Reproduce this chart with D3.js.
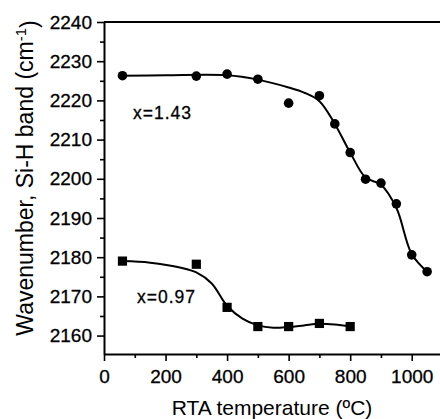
<!DOCTYPE html>
<html>
<head>
<meta charset="utf-8">
<script src="https://cdn.jsdelivr.net/npm/d3@7"></script>
<style>
  body { margin: 0; background: #fff; }
  svg { display: block; font-family: "Liberation Sans", Arial, sans-serif; }
</style>
</head>
<body>
<div id="chart"></div>
<script>
// measured points, x=1.43
let tempHigh = [60, 300, 400, 500, 600, 700, 750, 800, 850, 900, 950, 1000, 1050];
let waveHigh = [2226.3, 2226.2, 2226.7, 2225.4, 2219.3, 2221.2, 2214.0, 2206.7, 2199.9, 2198.9, 2193.6, 2180.6, 2176.3];

// measured points, x=0.97
let tempLow = [60, 300, 400, 500, 600, 700, 800];
let waveLow = [2179.0, 2178.2, 2167.2, 2162.3, 2162.3, 2163.1, 2162.3];

// fitted curves
let fitTempHigh = [60, 200, 400, 500, 600, 650, 700, 750, 800, 850, 900, 950, 1000, 1050];
let fitWaveHigh = [2226.3, 2226.4, 2226.4, 2225.3, 2223.3, 2222.0, 2219.8, 2214.0, 2206.7, 2200.3, 2198.5, 2192.6, 2180.8, 2176.3];
let fitTempLow = [60, 150, 250, 300, 350, 400, 450, 500, 550, 600, 650, 700, 750, 800];
let fitWaveLow = [2179.0, 2178.6, 2177.3, 2176.1, 2173.3, 2167.6, 2164.3, 2162.6, 2162.0, 2162.2, 2162.6, 2163.0, 2162.8, 2162.3];

let xTicks = [0, 200, 400, 600, 800, 1000];
let xMinor = [100, 300, 500, 700, 900];
let yTicks = [2160, 2170, 2180, 2190, 2200, 2210, 2220, 2230, 2240];
let yMinor = [2165, 2175, 2185, 2195, 2205, 2215, 2225, 2235];

let svgWidth = 440;
let svgHeight = 419;

let svg = d3.select("#chart")
    .append("svg")
    .attr("width", svgWidth)
    .attr("height", svgHeight);

let x = d3.scaleLinear().domain([0, 1100]).range([104, 442.5]);
let y = d3.scaleLinear().domain([2155.3, 2240]).range([354, 22]);

// minor ticks first
svg.append("g")
    .attr("transform", `translate(0, ${y.range()[0]})`)
    .call(d3.axisBottom(x).tickValues(xMinor).tickSize(4).tickFormat(""))
    .call(g => g.select(".domain").remove());
svg.append("g")
    .attr("transform", `translate(${x.range()[0]}, 0)`)
    .call(d3.axisLeft(y).tickValues(yMinor).tickSize(4).tickFormat(""))
    .call(g => g.select(".domain").remove());

// major axes
svg.append("g")
    .attr("transform", `translate(0, ${y.range()[0]})`)
    .call(d3.axisBottom(x).tickValues(xTicks).tickFormat(d3.format("d"))
        .tickSize(7).tickSizeOuter(0).tickPadding(8.6));
svg.append("g")
    .attr("transform", `translate(${x.range()[0]}, 0)`)
    .call(d3.axisLeft(y).tickValues(yTicks).tickFormat(d3.format("d"))
        .tickSize(7).tickSizeOuter(0).tickPadding(5));

svg.selectAll(".tick line").attr("stroke", "#000").attr("stroke-width", 1.6);
svg.selectAll(".domain").attr("stroke", "#000").attr("stroke-width", 2);
svg.selectAll(".tick text")
    .attr("font-size", "19px")
    .attr("font-family", "Liberation Sans, Arial, sans-serif")
    .attr("fill", "#000")
    .attr("stroke", "#000")
    .attr("stroke-width", 0.3);

// top frame line
svg.append("line")
    .attr("x1", x(0)).attr("x2", x(1100))
    .attr("y1", y(2240)).attr("y2", y(2240))
    .attr("stroke", "#000").attr("stroke-width", 2);

// fitted curves
let line = d3.line()
    .x(d => x(d[0]))
    .y(d => y(d[1]))
    .curve(d3.curveCatmullRom.alpha(0.5));

svg.append("path")
    .datum(fitTempHigh.map((t, i) => [t, fitWaveHigh[i]]))
    .attr("d", line)
    .attr("fill", "none")
    .attr("stroke", "#000")
    .attr("stroke-width", 2);

svg.append("path")
    .datum(fitTempLow.map((t, i) => [t, fitWaveLow[i]]))
    .attr("d", line)
    .attr("fill", "none")
    .attr("stroke", "#000")
    .attr("stroke-width", 2);

// markers
svg.selectAll("circle.pt")
    .data(tempHigh.map((t, i) => [t, waveHigh[i]]))
    .enter()
    .append("circle")
    .attr("class", "pt")
    .attr("cx", d => x(d[0]))
    .attr("cy", d => y(d[1]))
    .attr("r", 4.8)
    .attr("fill", "#000");

svg.selectAll("rect.pt")
    .data(tempLow.map((t, i) => [t, waveLow[i]]))
    .enter()
    .append("rect")
    .attr("class", "pt")
    .attr("x", d => x(d[0]) - 4.6)
    .attr("y", d => y(d[1]) - 4.6)
    .attr("width", 9.2)
    .attr("height", 9.2)
    .attr("fill", "#000");

// series labels
svg.append("text")
    .attr("x", 133).attr("y", 119)
    .attr("font-size", "17.5px")
    .attr("letter-spacing", "1px")
    .attr("stroke", "#000").attr("stroke-width", 0.3)
    .text("x=1.43");
svg.append("text")
    .attr("x", 137).attr("y", 303)
    .attr("font-size", "17.5px")
    .attr("letter-spacing", "1px")
    .attr("stroke", "#000").attr("stroke-width", 0.3)
    .text("x=0.97");

// axis titles
svg.append("text")
    .attr("x", 272).attr("y", 415)
    .attr("text-anchor", "middle")
    .attr("font-size", "21px")
    .text("RTA temperature (ºC)");

let yTitle = svg.append("text")
    .attr("transform", "translate(33, 178) rotate(-90)")
    .attr("text-anchor", "middle")
    .attr("font-size", "23px");
yTitle.append("tspan").text("Wavenumber, Si-H band (cm");
yTitle.append("tspan").attr("dy", "-0.45em").attr("font-size", "15px").text("-1");
yTitle.append("tspan").attr("dy", "0.45em").text(")");
</script>
</body>
</html>
